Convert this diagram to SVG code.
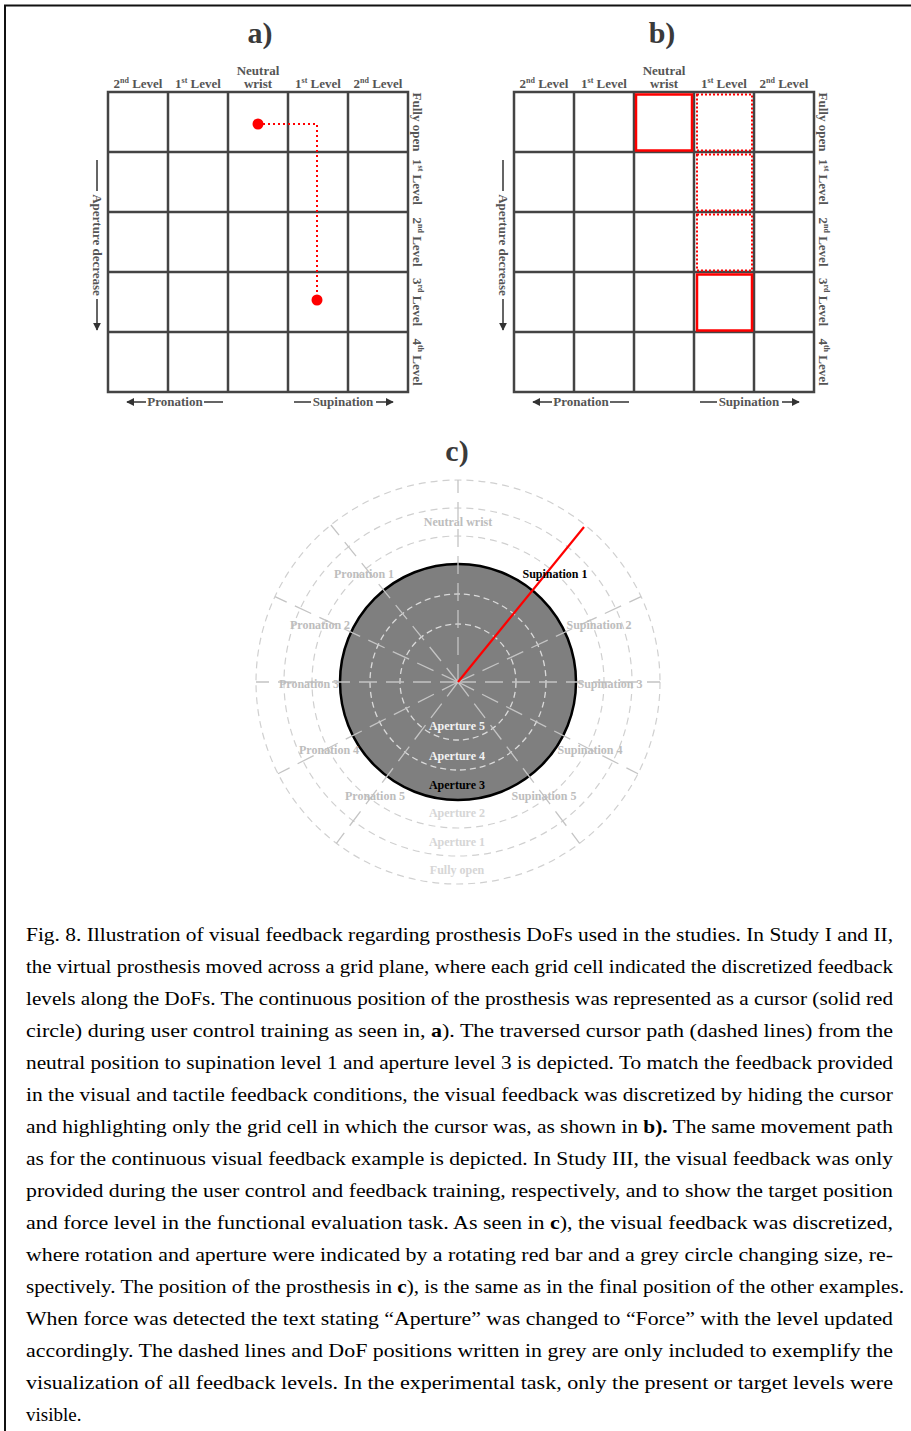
<svg xmlns="http://www.w3.org/2000/svg" width="911" height="1431" viewBox="0 0 911 1431">
<style>
.ttl{font-family:"Liberation Serif",serif;font-weight:bold;font-size:30px;fill:#3a3a3a;text-anchor:middle}
.lbl{font-family:"Liberation Serif",serif;font-weight:bold;font-size:13px;fill:#555;text-anchor:middle}
.grid{fill:none;stroke:#444;stroke-width:2.5}
.ax{fill:none;stroke:#333;stroke-width:1.5}
.cl{font-family:"Liberation Serif",serif;font-weight:bold;font-size:12px;fill:#bdbdbd;text-anchor:middle}
.ring{fill:none;stroke:#d0d0d0;stroke-width:1.2;stroke-dasharray:7 5}
.iring{fill:none;stroke:#dadada;stroke-width:1.3;stroke-dasharray:6 4}
.spoke{stroke:#c4c4c4;stroke-width:1.3;stroke-dasharray:18 9}
.cap{font-family:"Liberation Serif",serif;font-size:19px;fill:#000}
.b{font-weight:bold}
</style>
<defs>
<marker id="ah" viewBox="0 0 10 10" refX="9" refY="5" markerWidth="8" markerHeight="8" markerUnits="userSpaceOnUse" orient="auto"><path d="M0,0 L10,5 L0,10 z" fill="#333"/></marker>
<g id="gridTemplate">
<path class="grid" d="M108,92 H408 V392 H108 Z M168,92 V392 M228,92 V392 M288,92 V392 M348,92 V392 M108,152 H408 M108,212 H408 M108,272 H408 M108,332 H408"/>
<text class="lbl" x="138" y="88">2<tspan font-size="8" dy="-5">nd</tspan><tspan dy="5"> Level</tspan></text>
<text class="lbl" x="198" y="88">1<tspan font-size="8" dy="-5">st</tspan><tspan dy="5"> Level</tspan></text>
<text class="lbl" x="258" y="75">Neutral</text>
<text class="lbl" x="258" y="88">wrist</text>
<text class="lbl" x="318" y="88">1<tspan font-size="8" dy="-5">st</tspan><tspan dy="5"> Level</tspan></text>
<text class="lbl" x="378" y="88">2<tspan font-size="8" dy="-5">nd</tspan><tspan dy="5"> Level</tspan></text>
<text class="lbl" transform="translate(413,122) rotate(90)">Fully open</text>
<text class="lbl" transform="translate(413,182) rotate(90)">1<tspan font-size="8" dy="-5">st</tspan><tspan dy="5"> Level</tspan></text>
<text class="lbl" transform="translate(413,242) rotate(90)">2<tspan font-size="8" dy="-5">nd</tspan><tspan dy="5"> Level</tspan></text>
<text class="lbl" transform="translate(413,302) rotate(90)">3<tspan font-size="8" dy="-5">rd</tspan><tspan dy="5"> Level</tspan></text>
<text class="lbl" transform="translate(413,362) rotate(90)">4<tspan font-size="8" dy="-5">th</tspan><tspan dy="5"> Level</tspan></text>
<text class="lbl" transform="translate(93,245) rotate(90)">Aperture decrease</text>
<path class="ax" d="M97,160 V191 M97,299 V330" marker-end="url(#ah)"/>
<text class="lbl" x="175" y="406">Pronation</text>
<path class="ax" d="M223,402 H204 M146,402 H127" marker-end="url(#ah)"/>
<text class="lbl" x="343" y="406">Supination</text>
<path class="ax" d="M294,402 H311 M376,402 H393" marker-end="url(#ah)"/>
</g>
</defs>
<path d="M5,1431 V5.5 H911" fill="none" stroke="#111" stroke-width="2"/>

<g id="panel-a">
<text class="ttl" x="260" y="43">a)</text>
<use href="#gridTemplate"/>
<path d="M258,124 H317 V300" fill="none" stroke="#f00" stroke-width="2" stroke-dasharray="2 3"/>
<circle cx="258" cy="124" r="5.5" fill="#f00"/>
<circle cx="317" cy="300" r="5.5" fill="#f00"/>
</g>

<g id="panel-b">
<text class="ttl" x="662" y="43">b)</text>
<use href="#gridTemplate" transform="translate(406,0)"/>
<rect x="636" y="94.5" width="56" height="56" fill="none" stroke="#f00" stroke-width="2.5"/>
<g fill="none" stroke="#f00" stroke-width="2" stroke-dasharray="2 2">
<rect x="697" y="94.5" width="55" height="56"/>
<rect x="697" y="154.5" width="55" height="56"/>
<rect x="697" y="214.5" width="55" height="56"/>
</g>
<rect x="697" y="274.5" width="55" height="56" fill="none" stroke="#f00" stroke-width="2.5"/>
</g>

<g id="panel-c">
<text class="ttl" x="457" y="461">c)</text>
<circle class="ring" cx="458" cy="682" r="146"/>
<circle class="ring" cx="458" cy="682" r="174"/>
<circle class="ring" cx="458" cy="682" r="202"/>
<circle cx="458" cy="682" r="118" fill="#7f7f7f" stroke="#000" stroke-width="2.5"/>
<circle class="iring" cx="458" cy="682" r="58"/>
<circle class="iring" cx="458" cy="682" r="88"/>
<g id="spokes" transform="translate(458,682)">
<line class="spoke" x1="0" y1="0" x2="0" y2="-202"/>
<line class="spoke" x1="0" y1="0" x2="0" y2="-202" transform="rotate(-39)"/>
<line class="spoke" x1="0" y1="0" x2="0" y2="-202" transform="rotate(65)"/>
<line class="spoke" x1="0" y1="0" x2="0" y2="-202" transform="rotate(-65)"/>
<line class="spoke" x1="0" y1="0" x2="0" y2="-202" transform="rotate(90)"/>
<line class="spoke" x1="0" y1="0" x2="0" y2="-202" transform="rotate(-90)"/>
<line class="spoke" x1="0" y1="0" x2="0" y2="-202" transform="rotate(117)"/>
<line class="spoke" x1="0" y1="0" x2="0" y2="-202" transform="rotate(-117)"/>
<line class="spoke" x1="0" y1="0" x2="0" y2="-202" transform="rotate(143)"/>
<line class="spoke" x1="0" y1="0" x2="0" y2="-202" transform="rotate(-143)"/>
</g>
<line id="red-bar" x1="458" y1="682" x2="584" y2="527" stroke="#f00" stroke-width="2.2"/>
<text class="cl" x="458" y="526">Neutral wrist</text>
<text class="cl" x="364" y="578">Pronation 1</text>
<text class="cl" x="555" y="578" fill="#000" style="fill:#000">Supination 1</text>
<text class="cl" x="320" y="629">Pronation 2</text>
<text class="cl" x="599" y="629">Supination 2</text>
<text class="cl" x="309" y="688">Pronation 3</text>
<text class="cl" x="610" y="688">Supination 3</text>
<text class="cl" x="329" y="754">Pronation 4</text>
<text class="cl" x="590" y="754">Supination 4</text>
<text class="cl" x="375" y="800">Pronation 5</text>
<text class="cl" x="544" y="800">Supination 5</text>
<text class="cl" x="457" y="730" style="fill:#f2f2f2">Aperture 5</text>
<text class="cl" x="457" y="760" style="fill:#f2f2f2">Aperture 4</text>
<text class="cl" x="457" y="789" style="fill:#000">Aperture 3</text>
<text class="cl" x="457" y="817" style="fill:#d6d6d6">Aperture 2</text>
<text class="cl" x="457" y="846" style="fill:#d6d6d6">Aperture 1</text>
<text class="cl" x="457" y="874" style="fill:#d6d6d6">Fully open</text>
</g>

<g id="caption">
<text class="cap" x="26" y="941" textLength="867" lengthAdjust="spacingAndGlyphs">Fig. 8. Illustration of visual feedback regarding prosthesis DoFs used in the studies. In Study I and II,</text>
<text class="cap" x="26" y="973" textLength="867" lengthAdjust="spacingAndGlyphs">the virtual prosthesis moved across a grid plane, where each grid cell indicated the discretized feedback</text>
<text class="cap" x="26" y="1005" textLength="867" lengthAdjust="spacingAndGlyphs">levels along the DoFs. The continuous position of the prosthesis was represented as a cursor (solid red</text>
<text class="cap" x="26" y="1037" textLength="867" lengthAdjust="spacingAndGlyphs">circle) during user control training as seen in, <tspan class="b">a</tspan>). The traversed cursor path (dashed lines) from the</text>
<text class="cap" x="26" y="1069" textLength="867" lengthAdjust="spacingAndGlyphs">neutral position to supination level 1 and aperture level 3 is depicted. To match the feedback provided</text>
<text class="cap" x="26" y="1101" textLength="867" lengthAdjust="spacingAndGlyphs">in the visual and tactile feedback conditions, the visual feedback was discretized by hiding the cursor</text>
<text class="cap" x="26" y="1133" textLength="867" lengthAdjust="spacingAndGlyphs">and highlighting only the grid cell in which the cursor was, as shown in <tspan class="b">b).</tspan> The same movement path</text>
<text class="cap" x="26" y="1165" textLength="867" lengthAdjust="spacingAndGlyphs">as for the continuous visual feedback example is depicted. In Study III, the visual feedback was only</text>
<text class="cap" x="26" y="1197" textLength="867" lengthAdjust="spacingAndGlyphs">provided during the user control and feedback training, respectively, and to show the target position</text>
<text class="cap" x="26" y="1229" textLength="867" lengthAdjust="spacingAndGlyphs">and force level in the functional evaluation task. As seen in <tspan class="b">c</tspan>), the visual feedback was discretized,</text>
<text class="cap" x="26" y="1261" textLength="867" lengthAdjust="spacingAndGlyphs">where rotation and aperture were indicated by a rotating red bar and a grey circle changing size, re-</text>
<text class="cap" x="26" y="1293" textLength="878" lengthAdjust="spacingAndGlyphs">spectively. The position of the prosthesis in <tspan class="b">c</tspan>), is the same as in the final position of the other examples.</text>
<text class="cap" x="26" y="1325" textLength="867" lengthAdjust="spacingAndGlyphs">When force was detected the text stating “Aperture” was changed to “Force” with the level updated</text>
<text class="cap" x="26" y="1357" textLength="867" lengthAdjust="spacingAndGlyphs">accordingly. The dashed lines and DoF positions written in grey are only included to exemplify the</text>
<text class="cap" x="26" y="1389" textLength="867" lengthAdjust="spacingAndGlyphs">visualization of all feedback levels. In the experimental task, only the present or target levels were</text>
<text class="cap" x="26" y="1421">visible.</text>
</g>
</svg>
